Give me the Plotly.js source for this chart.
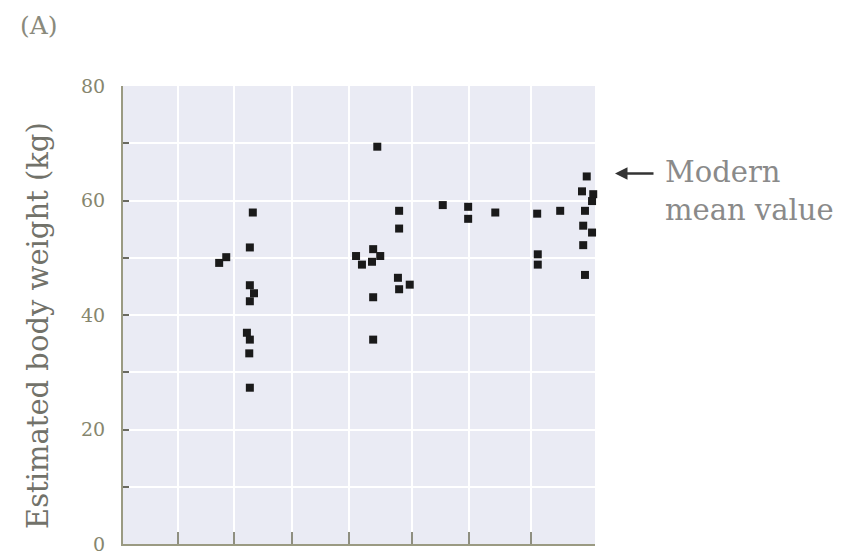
<!DOCTYPE html>
<html>
<head>
<meta charset="utf-8">
<script src="https://cdn.plot.ly/plotly-3.0.1.min.js"></script>
<style>html,body{margin:0;padding:0;background:#fff;}#chart{width:843px;height:557px;}</style>
</head>
<body>
<div id="chart"></div>
<script>
// Sample position along the (unlabelled) horizontal axis
const samplePosition = [
  2.20, 2.15, 1.63, 1.75, 2.15, 2.22, 2.15, 2.10, 2.15, 2.14, 2.15,
  4.31, 4.68, 4.68, 3.95, 4.05, 4.24, 4.36, 4.22, 4.66, 4.68, 4.86, 4.24, 4.24,
  5.42, 5.85, 5.85, 6.31, 7.02, 7.41, 7.03, 7.03,
  7.86, 7.78, 7.97, 7.95, 7.83, 7.80, 7.95, 7.80, 7.83
];
// Estimated body weight (kg)
const bodyWeight = [
  57.9, 51.8, 49.1, 50.1, 45.2, 43.8, 42.4, 36.9, 35.7, 33.3, 27.3,
  69.4, 58.2, 55.1, 50.3, 48.8, 51.5, 50.3, 49.3, 46.5, 44.5, 45.3, 43.1, 35.7,
  59.2, 58.9, 56.8, 57.9, 57.7, 58.2, 50.6, 48.8,
  64.2, 61.6, 61.1, 59.9, 58.2, 55.6, 54.4, 52.2, 47.0
];
const xTickPositions = [0.93, 1.88, 2.86, 3.83, 4.90, 5.86, 6.92, 8.0];
const yTickValues = [0, 10, 20, 30, 40, 50, 60, 70, 80];
const yTickLabels = ['0', '', '20', '', '40', '', '60', '', '80'];
const yMax = 80;
const modernMean = 64.7;

const serif = '"DejaVu Serif", "Liberation Serif", serif';

const trace = {
  type: 'scatter',
  mode: 'markers',
  x: samplePosition,
  y: bodyWeight,
  marker: {symbol: 'square', size: 8, color: '#1a1a1a'},
  cliponaxis: false,
  hoverinfo: 'skip'
};

const layout = {
  width: 843,
  height: 557,
  margin: {l: 123, r: 248, t: 86, b: 13},
  paper_bgcolor: '#ffffff',
  plot_bgcolor: '#eaebf4',
  showlegend: false,
  xaxis: {
    range: [0, 8],
    tickmode: 'array',
    tickvals: xTickPositions,
    ticktext: xTickPositions.map(() => ''),
    ticks: 'inside',
    ticklen: 12,
    tickwidth: 2,
    tickcolor: '#8f8f80',
    showgrid: true,
    gridcolor: '#ffffff',
    gridwidth: 2,
    zeroline: false,
    showline: true,
    linecolor: '#9a9a82',
    linewidth: 2,
    fixedrange: true
  },
  yaxis: {
    range: [0, yMax],
    tickmode: 'array',
    tickvals: yTickValues,
    ticktext: yTickLabels,
    ticks: 'inside',
    ticklen: 6,
    tickwidth: 2,
    tickcolor: '#6a6a60',
    ticklabelstandoff: 12,
    ticklabeloverflow: 'allow',
    tickfont: {family: serif, size: 19, color: '#86866e'},
    showgrid: true,
    gridcolor: '#ffffff',
    gridwidth: 2,
    zeroline: false,
    showline: true,
    linecolor: '#9a9a82',
    linewidth: 2,
    fixedrange: true
  },
  annotations: [
    {
      text: 'Estimated body weight (kg)',
      xref: 'paper', yref: 'paper',
      x: (38 - 123) / 472, y: (544 - 326) / 458,
      xanchor: 'center', yanchor: 'middle',
      textangle: -90,
      showarrow: false,
      font: {family: serif, size: 29, color: '#72726a'}
    },
    {
      text: '(A)',
      xref: 'paper', yref: 'paper',
      x: (39 - 123) / 472, y: (544 - 26) / 458,
      xanchor: 'center', yanchor: 'middle',
      showarrow: false,
      font: {family: serif, size: 25, color: '#8a8a7c'}
    },
    {
      text: '',
      xref: 'paper', yref: 'paper',
      x: (615 - 123) / 472, y: modernMean / yMax,
      ax: 40, ay: 0,
      showarrow: true,
      arrowhead: 2,
      arrowsize: 1,
      arrowwidth: 2.5,
      arrowcolor: '#333333'
    },
    {
      text: 'Modern<br>mean value',
      xref: 'paper', yref: 'paper',
      x: (663 - 123) / 472, y: (544 - 191) / 458,
      xanchor: 'left', yanchor: 'middle',
      align: 'left',
      showarrow: false,
      font: {family: serif, size: 29, color: '#8a8a8a'}
    }
  ]
};

Plotly.newPlot('chart', [trace], layout, {staticPlot: true, displayModeBar: false});
</script>
</body>
</html>
